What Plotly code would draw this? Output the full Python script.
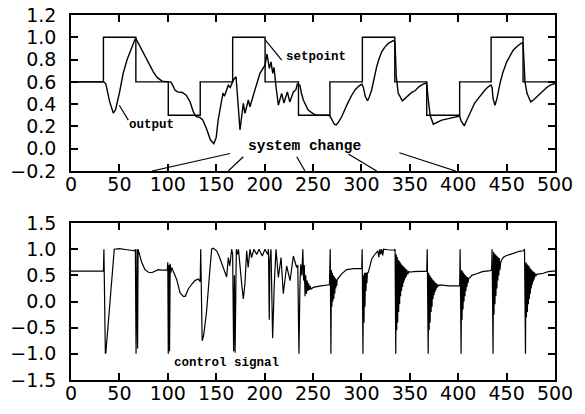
import plotly.graph_objects as go
from plotly.subplots import make_subplots

# ---------------- data ----------------
step_x = [0, 33.5, 67, 100.5, 133.5, 167, 200.5, 235, 267.5, 301, 334.5, 367.5, 401.5, 434, 467, 500]
setpoint_levels = [0.6, 1.0, 0.6, 0.3, 0.6, 1.0, 0.6, 0.3, 0.6, 1.0, 0.6, 0.3, 0.6, 1.0, 0.6, 0.6]

output_x = [0, 34, 36, 38, 40, 43.7, 46, 50, 54, 58, 62, 66, 67, 70, 76.4, 80, 85, 89, 94, 100.5,
            103, 105, 107.4, 110, 115, 119, 123, 126.4, 129, 133, 136, 140, 144, 147.5, 150, 152,
            155.6, 157, 158.5, 160.8, 162.5, 164.5, 167.7, 170.5, 172.5, 174.6, 178, 179.7, 183.2,
            184.9, 190, 195.2, 200.4, 202.5, 204.9, 206.6, 208.4, 209.7, 211.8, 214.2, 217.6, 220,
            223.5, 226, 229.7, 232.4, 233.8, 236.5, 238, 240, 245, 250, 254, 267, 269, 272, 274,
            276.5, 279.6, 283, 286.5, 290, 293.4, 297, 300.5, 302, 304, 306.3, 308, 310.6, 313,
            315.8, 318, 321, 324, 327.8, 333, 334.7, 336, 338, 342.3, 345, 348.5, 352, 355.4, 360,
            364, 367.4, 369, 371, 374.3, 378, 383, 389.8, 396, 401.5, 403, 406.3, 408, 411, 414,
            417, 420.8, 424, 427.7, 431, 433.9, 435, 436, 438, 440, 443.2, 446, 450.1, 453, 457,
            461, 464.9, 467, 468, 469, 471, 474.9, 478, 482.8, 487, 491.4, 495, 500]
output_y = [0.6, 0.6, 0.58, 0.5, 0.42, 0.32, 0.35, 0.5, 0.68, 0.8, 0.9, 0.98, 0.99, 0.94, 0.83,
            0.76, 0.69, 0.64, 0.607, 0.6, 0.6, 0.57, 0.527, 0.51, 0.505, 0.48, 0.42, 0.33, 0.29,
            0.28, 0.26, 0.18, 0.08, 0.045, 0.1, 0.257, 0.437, 0.5, 0.47, 0.54, 0.57, 0.55, 0.617,
            0.646, 0.4, 0.168, 0.407, 0.317, 0.437, 0.377, 0.527, 0.677, 0.75, 0.85, 0.72, 0.78,
            0.677, 0.73, 0.556, 0.39, 0.497, 0.41, 0.51, 0.42, 0.51, 0.53, 0.58, 0.57, 0.5, 0.437,
            0.347, 0.315, 0.3, 0.3, 0.27, 0.22, 0.213, 0.24, 0.287, 0.36, 0.42, 0.48, 0.527, 0.56,
            0.58, 0.55, 0.47, 0.43, 0.46, 0.527, 0.63, 0.736, 0.8, 0.87, 0.91, 0.945, 0.97, 0.96,
            0.65, 0.5, 0.43, 0.45, 0.48, 0.505, 0.52, 0.56, 0.58, 0.59, 0.45, 0.3, 0.22, 0.235,
            0.257, 0.27, 0.285, 0.293, 0.25, 0.205, 0.24, 0.3, 0.362, 0.41, 0.452, 0.49, 0.527,
            0.555, 0.572, 0.55, 0.45, 0.39, 0.45, 0.587, 0.68, 0.78, 0.83, 0.886, 0.92, 0.945, 0.95,
            0.8, 0.6, 0.5, 0.42, 0.44, 0.482, 0.52, 0.55, 0.57, 0.585]

# control signal as (time, value) pairs
control_signal = [
    (0, 0.58), (33.5, 0.58), (34, 1.0), (35.5, -1.0), (36, -0.98), (44.7, 1.0), (50, 1.01),
    (58, 0.99), (66, 0.97), (66.5, 1.0), (67.2, -1.0), (68.2, 1.0), (68.8, -0.9), (69.3, 1.0),
    (70.5, 0.9), (73, 0.75), (76.4, 0.61), (80, 0.56), (83.4, 0.55), (87, 0.59), (90.2, 0.61),
    (94, 0.6), (99.5, 0.6), (100, 0.75), (100.5, -1.0), (101.3, 0.7), (101.8, -0.95),
    (102.5, 0.72), (103.2, 0.55), (104, 0.65), (105.7, 0.58), (109.2, 0.42), (112.6, 0.17),
    (116, 0.1), (118, 0.1), (121.2, 0.24), (124.7, 0.33), (128, 0.4), (131.5, 0.43),
    (133.5, 0.38), (134, 1.0), (135.5, -0.75), (137, -0.65), (140, -0.2), (143, 0.5),
    (145.3, 1.0), (147, 1.02), (150.5, 0.97), (153, 0.87), (155.7, 0.73), (159, 0.53),
    (160.8, 0.47), (162.5, 0.84), (164, 0.68), (166, 1.0), (167, 0.9), (168, -0.95),
    (168.8, 0.5), (169.5, -0.98), (170.8, 1.0), (172, 0.9), (173, 1.0), (176.3, 0.34),
    (178, 0.05), (179.7, 0.34), (181.5, 0.97), (183, 0.65), (184.9, 1.0), (186.5, 0.84),
    (189, 1.0), (191.8, 0.9), (194.2, 1.0), (197.6, 0.87), (200.4, 1.0), (203.2, 0.9),
    (204, 1.0), (204.8, -0.35), (205.5, 0.8), (206.6, 1.0), (207.5, 0.3), (208.3, -0.7),
    (210, 0.34), (211.8, 1.0), (214.2, 0.46), (217, 0.84), (219.3, 0.15), (222.8, 0.68),
    (226.3, 0.4), (229.7, 0.87), (233.1, 0.65), (234.3, 0.7), (234.8, -0.06), (235.5, -1.0),
    (236.5, 0.3), (237.3, 0.71), (238.5, 0.5), (239.5, 1.0), (240.3, 0.4), (241, 0.7),
    (241.8, 0.1), (242.5, 0.5), (243.3, 0.15), (244, 0.4), (244.8, 0.2), (245.5, 0.35),
    (246.3, 0.22), (247, 0.3), (248, 0.24), (250.3, 0.27), (258, 0.3), (267, 0.32),
    (267.8, 1.0), (268.5, -1.0),
    (269, 0.6), (269.5, -0.1), (270, 0.55), (270.5, 0.0), (271, 0.5), (271.5, 0.05),
    (272, 0.48), (272.5, 0.15), (273, 0.45), (273.5, 0.25), (274, 0.42), (274.5, 0.3),
    (275, 0.42), (276, 0.44),
    (279.6, 0.53), (284.8, 0.61), (292, 0.63), (300.3, 0.63), (300.8, 1.0), (301.6, -1.0),
    (302.2, 0.5), (302.7, -0.4), (303.2, 0.55), (303.7, -0.1), (304.2, 0.55), (304.7, 0.2),
    (305.2, 0.55), (305.7, 0.35), (306.2, 0.55), (307, 0.55),
    (308, 0.62), (310.6, 0.81), (313, 0.88), (315.8, 0.94), (317, 0.97), (318, 0.85),
    (319, 1.0), (320, 0.9), (321, 1.0), (322, 0.88), (323, 1.0), (327, 0.99), (334, 0.98),
    (334.8, 1.0), (335.5, -1.0),
    (336, 0.9), (336.5, -0.55), (337, 0.85), (337.5, -0.4), (338, 0.8), (338.5, -0.2),
    (339, 0.78), (339.5, -0.05), (340, 0.75), (340.5, 0.1), (341, 0.72), (341.5, 0.2),
    (342, 0.7), (342.5, 0.28), (343, 0.68), (343.5, 0.35), (344, 0.66), (344.5, 0.4),
    (345, 0.64), (345.5, 0.45), (346, 0.62), (346.5, 0.48), (347, 0.6), (348, 0.52),
    (349, 0.58), (350, 0.56),
    (353.6, 0.57), (360, 0.58), (367.5, 0.58), (368, 1.0), (369, -1.0),
    (369.5, 0.55), (370, -0.55), (370.5, 0.5), (371, -0.4), (371.5, 0.48), (372, -0.2),
    (372.5, 0.45), (373, -0.1), (373.5, 0.42), (374, 0.05), (374.5, 0.4), (375, 0.12),
    (375.5, 0.38), (376, 0.18), (376.5, 0.36), (377, 0.22), (377.5, 0.35), (378, 0.26),
    (379, 0.32), (380, 0.3),
    (381.2, 0.32), (390, 0.3), (401.5, 0.3), (402, 1.0), (403, -1.0),
    (403.5, 0.6), (404, -0.35), (404.5, 0.58), (405, -0.15), (405.5, 0.55), (406, 0.0),
    (406.5, 0.52), (407, 0.1), (407.5, 0.5), (408, 0.2), (408.5, 0.48), (409, 0.28),
    (409.5, 0.47), (410, 0.35), (411, 0.45), (412, 0.45),
    (414, 0.5), (419, 0.53), (425, 0.57), (432.9, 0.59), (434.5, 0.6), (435, 1.0), (436, -1.0),
    (436.5, 0.95), (437, -0.25), (437.5, 0.92), (438, -0.05), (438.5, 0.9), (439, 0.1),
    (439.5, 0.88), (440, 0.25), (440.5, 0.86), (441, 0.4), (441.5, 0.84), (442, 0.5),
    (442.5, 0.83), (443, 0.6), (444, 0.75), (445, 0.8),
    (447, 0.85), (450, 0.88), (457, 0.92), (463, 0.96), (467.3, 0.97), (468.5, 1.0),
    (469.5, -1.0),
    (470, 0.75), (470.5, -0.3), (471, 0.72), (471.5, -0.2), (472, 0.7), (472.5, -0.05),
    (473, 0.68), (473.5, 0.05), (474, 0.65), (474.5, 0.15), (475, 0.62), (475.5, 0.25),
    (476, 0.6), (476.5, 0.32), (477, 0.58), (477.5, 0.38), (478, 0.57), (478.5, 0.42),
    (479, 0.55), (480, 0.48), (481, 0.52),
    (487.9, 0.54), (493, 0.57), (498.2, 0.58), (500, 0.58),
]
control_x = [p[0] for p in control_signal]
control_y = [p[1] for p in control_signal]

x_ticks = [0, 50, 100, 150, 200, 250, 300, 350, 400, 450, 500]
top_y_ticks = [-0.2, 0.0, 0.2, 0.4, 0.6, 0.8, 1.0, 1.2]
top_y_labels = ["\u22120.2", "0.0", "0.2", "0.4", "0.6", "0.8", "1.0", "1.2"]
bot_y_ticks = [-1.5, -1.0, -0.5, 0.0, 0.5, 1.0, 1.5]
bot_y_labels = ["\u22121.5", "\u22121.0", "\u22120.5", "0.0", "0.5", "1.0", "1.5"]

# annotation pointer lines (data coords): [x0, y0, x1, y1]
setpoint_ptr = [200.4, 0.98, 217.7, 0.795]
output_ptr = [49.9, 0.39, 59.2, 0.257]
system_change_ptrs = [
    [164.3, -0.043, 83.7, -0.2],
    [178.0, -0.072, 162.5, -0.2],
    [233.2, -0.072, 241.7, -0.2],
    [286.5, -0.048, 315.8, -0.2],
    [339.2, -0.036, 397.4, -0.2],
]

# ---------------- figure ----------------
fig = make_subplots(rows=2, cols=1, vertical_spacing=0.1)
line_style = dict(color="black", width=1.4)

fig.add_trace(go.Scatter(x=step_x, y=setpoint_levels, mode="lines", line=dict(line_style, shape="hv"),
                         showlegend=False, hoverinfo="skip"), row=1, col=1)
fig.add_trace(go.Scatter(x=output_x, y=output_y, mode="lines", line=line_style, showlegend=False,
                         hoverinfo="skip"), row=1, col=1)
fig.add_trace(go.Scatter(x=control_x, y=control_y, mode="lines", line=dict(color="black", width=1.2),
                         showlegend=False, hoverinfo="skip"), row=2, col=1)

tick_font = dict(family="DejaVu Sans", size=19, color="black")
label_font = dict(family="Liberation Mono", size=12.5, color="black", weight="bold")

axis_common = dict(showline=True, linecolor="black", linewidth=1.5, mirror="ticks",
                   ticks="inside", ticklen=7, tickwidth=1.5, tickcolor="black",
                   showgrid=False, zeroline=False, tickfont=tick_font, automargin=False,
                   ticklabeloverflow="allow")

for r in (1, 2):
    fig.update_xaxes(axis_common, range=[0, 500], tickvals=x_ticks, ticklabelstandoff=-5,
                     row=r, col=1)
fig.update_yaxes(axis_common, range=[-0.2, 1.2], tickvals=top_y_ticks, ticktext=top_y_labels,
                 ticklabelstandoff=9, row=1, col=1)
fig.update_yaxes(axis_common, range=[-1.5, 1.5], tickvals=bot_y_ticks, ticktext=bot_y_labels,
                 ticklabelstandoff=9, row=2, col=1)

fig.update_layout(
    width=585, height=414,
    margin=dict(l=71, r=30, t=15, b=34),
    paper_bgcolor="white", plot_bgcolor="white",
    hovermode=False,
    xaxis=dict(domain=[0, 1]), yaxis=dict(domain=[0.5726, 1.0]),
    xaxis2=dict(domain=[0, 1]), yaxis2=dict(domain=[0.0, 0.430]),
)

shapes = []
for p in [setpoint_ptr, output_ptr] + system_change_ptrs:
    shapes.append(dict(type="line", xref="x", yref="y", x0=p[0], y0=p[1], x1=p[2], y1=p[3],
                       line=dict(color="black", width=1.2)))
fig.update_layout(shapes=shapes)

fig.add_annotation(x=253.4, y=0.819, xref="x", yref="y", text="setpoint", showarrow=False,
                   font=label_font)
fig.add_annotation(x=83.4, y=0.213, xref="x", yref="y", text="output", showarrow=False,
                   font=label_font)
fig.add_annotation(x=241.2, y=0.028, xref="x", yref="y", text="system change", showarrow=False,
                   font=dict(label_font, size=14.5))
fig.add_annotation(x=160.8, y=-1.18, xref="x2", yref="y2", text="control signal", showarrow=False,
                   font=label_font)

# remove the default page margin so the 585x414 figure fills the window exactly
fig.write_html("out.html", config={"displayModeBar": False},
               post_script="document.body.style.margin='0';")
